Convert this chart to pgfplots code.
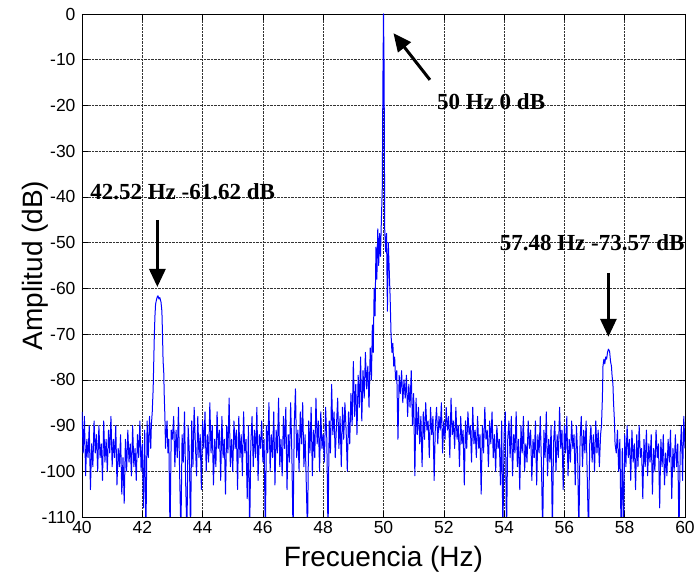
\documentclass[border=0pt]{standalone}
\usepackage{pgfplots}
\pgfplotsset{compat=1.18}
\usetikzlibrary{arrows.meta}
\usepackage{fontspec}
\setmainfont{Liberation Sans}
\newfontfamily\timesb{Liberation Serif}
\begin{document}
\begin{tikzpicture}[x=1pt,y=1pt]
\useasboundingbox (-82,-61) rectangle (615,517);
\begin{axis}[
  at={(0,0)}, anchor=south west,
  scale only axis, width=603pt, height=503pt,
  xmin=40, xmax=60, ymin=-110, ymax=0,
  xtick={40,42,...,60}, ytick={-110,-100,...,0},
  tick align=inside, tick pos=both,
  major tick length=6pt,
  grid=major, grid style={black!80, densely dotted, line width=0.6pt},
  axis line style={black, line width=0.8pt},
  tick style={black, line width=0.6pt},
  ticklabel style={font=\fontsize{17.5}{17.5}\selectfont},
  yticklabel style={xshift=-3pt},
  xticklabel style={yshift=-1pt},
  /pgf/number format/assume math mode=true,
  xlabel={Frecuencia (Hz)}, ylabel={Amplitud (dB)},
  label style={font=\fontsize{28}{28}\selectfont},
  xlabel style={at={(axis description cs:0.5,-0.0994)}, anchor=base},
  ylabel style={at={(axis description cs:-0.0663,0.5)}, anchor=base},
  clip mode=individual,
]
\addplot[blue, line width=1pt, line join=round] coordinates {
(40.00,-87)(40.04,-96)(40.08,-88)(40.12,-101)(40.16,-93)(40.20,-97)(40.24,-90)(40.28,-104)(40.32,-94)(40.36,-99)
(40.40,-89)(40.44,-96)(40.48,-92)(40.52,-100)(40.56,-90)(40.60,-97)(40.64,-94)(40.68,-102)(40.72,-89)(40.76,-98)
(40.80,-93)(40.84,-100)(40.88,-91)(40.92,-96)(40.96,-88)(41.00,-99)(41.04,-93)(41.08,-97)(41.12,-90)(41.16,-103)
(41.20,-95)(41.24,-99)(41.28,-92)(41.32,-105)(41.36,-97)(41.40,-107)(41.44,-93)(41.48,-100)(41.52,-91)(41.56,-98)
(41.60,-94)(41.64,-101)(41.68,-90)(41.72,-99)(41.76,-95)(41.80,-102)(41.84,-92)(41.88,-97)(41.92,-89)(41.96,-100)
(42.00,-94)(42.04,-108)(42.08,-91)(42.12,-114)(42.16,-89)(42.20,-97)(42.24,-88)(42.28,-95)
(42.30,-90)(42.33,-87)(42.36,-82)(42.38,-76)(42.40,-70)(42.42,-66)(42.44,-63.5)(42.47,-62.5)(42.50,-61.8)(42.52,-61.62)
(42.55,-62.3)(42.58,-62.0)(42.62,-63)(42.65,-65)(42.67,-70)(42.69,-76)(42.71,-78)(42.73,-84)(42.75,-88)(42.77,-95)
(42.79,-92)(42.82,-89)(42.85,-96)(42.88,-93)(42.92,-114)(42.96,-91)
(43.00,-93)(43.04,-88)(43.08,-99)(43.12,-91)(43.16,-97)(43.20,-86)(43.24,-101)(43.28,-114)(43.32,-92)(43.36,-98)
(43.40,-87)(43.44,-103)(43.48,-114)(43.52,-90)(43.56,-96)(43.60,-114)(43.64,-89)(43.68,-99)(43.72,-86)(43.76,-94)
(43.80,-101)(43.84,-88)(43.88,-97)(43.92,-92)(43.96,-104)(44.00,-89)(44.04,-95)(44.08,-87)(44.12,-100)(44.16,-92)
(44.20,-98)(44.24,-85)(44.28,-96)(44.32,-90)(44.36,-103)(44.40,-93)(44.44,-99)(44.48,-87)(44.52,-95)(44.56,-91)
(44.60,-102)(44.64,-88)(44.68,-97)(44.72,-93)(44.76,-105)(44.80,-90)(44.84,-96)(44.88,-84)(44.92,-99)(44.96,-93)
(45.00,-100)(45.04,-89)(45.08,-95)(45.12,-91)(45.16,-104)(45.20,-88)(45.24,-97)(45.28,-92)(45.32,-101)(45.36,-87)
(45.40,-96)(45.44,-93)(45.48,-106)(45.52,-90)(45.56,-114)(45.60,-94)(45.64,-88)(45.68,-99)(45.72,-91)(45.76,-97)
(45.80,-86)(45.84,-102)(45.88,-92)(45.92,-95)(45.96,-89)(46.00,-98)(46.04,-93)(46.08,-114)(46.12,-90)(46.16,-96)
(46.20,-85)(46.24,-100)(46.28,-92)(46.32,-97)(46.36,-87)(46.40,-103)(46.44,-91)(46.48,-96)(46.52,-84)(46.56,-99)
(46.60,-93)(46.64,-101)(46.68,-88)(46.72,-95)(46.76,-86)(46.80,-104)(46.84,-92)(46.88,-98)(46.92,-85)(46.96,-96)
(47.00,-114)(47.04,-90)(47.08,-82)(47.12,-97)(47.16,-91)(47.20,-100)(47.24,-87)(47.28,-94)(47.32,-85)(47.36,-99)
(47.40,-92)(47.44,-103)(47.48,-114)(47.52,-89)(47.56,-96)(47.60,-86)(47.64,-101)(47.68,-91)(47.72,-97)(47.76,-84)
(47.80,-94)(47.84,-89)(47.88,-100)(47.92,-87)(47.96,-95)(48.00,-92)(48.04,-98)(48.08,-86)(48.12,-93)(48.16,-114)
(48.20,-89)(48.24,-96)(48.28,-81)(48.32,-92)(48.36,-87)(48.40,-97)
(48.44,-90)(48.48,-84)(48.52,-95)(48.56,-88)(48.60,-99)(48.64,-86)(48.68,-93)(48.72,-85)(48.76,-91)(48.80,-100)
(48.84,-87)(48.88,-94)(48.92,-83)(48.96,-90)(49.00,-76)(49.04,-88)(49.08,-81)(49.12,-92)(49.16,-79)(49.20,-86)
(49.24,-75)(49.28,-89)(49.32,-78)(49.36,-84)(49.40,-74)(49.44,-82)(49.48,-77)(49.52,-86)(49.56,-73)(49.60,-80)
(49.63,-68)(49.66,-74)(49.69,-60)(49.72,-66)(49.75,-51)(49.78,-58)(49.81,-47)(49.84,-55)(49.87,-48)(49.90,-53)
(49.93,-45)(49.96,-38)(49.98,-15)(50.00,0)(50.02,-12)(50.04,-47)(50.07,-52)(50.10,-48)(50.13,-65)(50.16,-50)
(50.19,-56)(50.22,-62)(50.25,-70)(50.28,-74)(50.31,-72)(50.34,-77)(50.37,-75)(50.40,-80)(50.44,-78)(50.48,-93)
(50.52,-79)(50.56,-83)(50.60,-78)(50.64,-85)(50.68,-80)(50.72,-84)(50.76,-79)(50.80,-88)(50.84,-81)(50.88,-86)
(50.92,-78)(50.96,-90)(51.00,-83)(51.04,-101)(51.08,-84)
(51.12,-92)(51.16,-86)(51.20,-94)(51.24,-88)(51.28,-99)(51.32,-87)(51.36,-93)(51.40,-85)(51.44,-91)(51.48,-89)
(51.52,-97)(51.56,-86)(51.60,-92)(51.64,-88)(51.68,-102)(51.72,-90)(51.76,-86)(51.80,-94)(51.84,-88)(51.88,-91)
(51.92,-85)(51.96,-96)(52.00,-89)(52.04,-93)(52.08,-86)(52.12,-91)(52.16,-88)(52.20,-97)(52.24,-84)(52.28,-92)
(52.32,-89)(52.36,-95)(52.40,-86)(52.44,-93)(52.48,-90)(52.52,-99)(52.56,-88)(52.60,-94)(52.64,-91)(52.68,-103)
(52.72,-89)(52.76,-95)(52.80,-87)(52.84,-92)(52.88,-90)(52.92,-98)(52.96,-86)(53.00,-94)(53.04,-91)(53.08,-97)
(53.12,-88)(53.16,-95)(53.20,-92)(53.24,-105)(53.28,-90)(53.32,-96)(53.36,-86)(53.40,-93)(53.44,-91)(53.48,-99)
(53.52,-89)(53.56,-94)(53.60,-87)(53.64,-97)(53.68,-92)(53.72,-100)(53.76,-90)(53.80,-95)(53.84,-93)(53.88,-103)
(53.92,-89)(53.96,-114)(54.00,-92)(54.04,-87)(54.08,-114)(54.12,-93)(54.16,-89)
(54.20,-97)(54.24,-88)(54.28,-101)(54.32,-92)(54.36,-96)(54.40,-87)(54.44,-99)(54.48,-93)(54.52,-104)(54.56,-90)
(54.60,-96)(54.64,-88)(54.68,-100)(54.72,-94)(54.76,-98)(54.80,-89)(54.84,-95)(54.88,-91)(54.92,-102)(54.96,-93)
(55.00,-97)(55.04,-89)(55.08,-103)(55.12,-92)(55.16,-96)(55.20,-88)(55.24,-99)(55.28,-114)(55.32,-91)(55.36,-97)
(55.40,-87)(55.44,-101)(55.48,-93)(55.52,-98)(55.56,-90)(55.60,-114)(55.64,-94)(55.68,-89)(55.72,-100)(55.76,-92)
(55.80,-97)(55.84,-86)(55.88,-95)(55.92,-91)(55.96,-104)(56.00,-90)(56.04,-96)(56.08,-88)(56.12,-101)(56.16,-93)
(56.20,-98)(56.24,-89)(56.28,-95)(56.32,-92)(56.36,-103)(56.40,-90)(56.44,-97)(56.48,-114)(56.52,-93)(56.56,-88)
(56.60,-99)(56.64,-91)(56.68,-96)(56.72,-89)(56.76,-102)(56.80,-114)(56.84,-94)(56.88,-90)(56.92,-98)(56.96,-92)
(57.00,-100)(57.04,-89)(57.08,-96)(57.12,-91)(57.16,-99)(57.20,-92)
(57.23,-90)(57.26,-84)(57.28,-77)(57.31,-75.5)(57.34,-76.5)(57.37,-75)(57.40,-75.5)(57.43,-74)(57.46,-73.3)(57.48,-73.57)
(57.50,-73.8)(57.53,-76)(57.56,-77)(57.58,-79)(57.61,-81)(57.63,-85)(57.66,-89)(57.68,-94)
(57.72,-96)(57.76,-91)(57.80,-100)(57.84,-93)(57.88,-114)(57.92,-95)(57.96,-114)(58.00,-92)(58.04,-99)(58.08,-90)
(58.12,-97)(58.16,-93)(58.20,-102)(58.24,-91)(58.28,-98)(58.32,-94)(58.36,-104)(58.40,-92)(58.44,-99)(58.48,-90)
(58.52,-97)(58.56,-95)(58.60,-106)(58.64,-93)(58.68,-99)(58.72,-91)(58.76,-101)(58.80,-94)(58.84,-98)(58.88,-92)
(58.92,-105)(58.96,-95)(59.00,-100)(59.04,-91)(59.08,-97)(59.12,-94)(59.16,-108)(59.20,-93)(59.24,-99)(59.28,-92)
(59.32,-103)(59.36,-96)(59.40,-101)(59.44,-93)(59.48,-98)(59.52,-91)(59.56,-106)(59.60,-95)(59.64,-100)(59.68,-92)
(59.72,-99)(59.76,-94)(59.80,-114)(59.84,-96)(59.88,-90)(59.92,-102)(59.96,-88)(60.00,-95)
};
\node[font=\timesb\bfseries\fontsize{23}{23}\selectfont, anchor=west, inner sep=0pt] at (axis cs:40.27,-38.9) {42.52 Hz -61.62 dB};
\node[font=\timesb\bfseries\fontsize{23}{23}\selectfont, inner sep=0pt] at (axis cs:53.57,-19.2) {50 Hz 0 dB};
\node[font=\timesb\bfseries\fontsize{23}{23}\selectfont, inner sep=0pt] at (axis cs:56.92,-50.1) {57.48 Hz -73.57 dB};
\draw[-{Triangle[width=16pt,length=18pt]}, line width=3pt] (axis cs:42.5,-45) -- (axis cs:42.5,-59.7);
\draw[-{Triangle[width=16pt,length=18pt]}, line width=3pt] (axis cs:51.54,-14.4) -- (axis cs:50.33,-4.2);
\draw[-{Triangle[width=16pt,length=18pt]}, line width=3pt] (axis cs:57.46,-56.6) -- (axis cs:57.46,-70.6);
\end{axis}
\end{tikzpicture}
\end{document}
